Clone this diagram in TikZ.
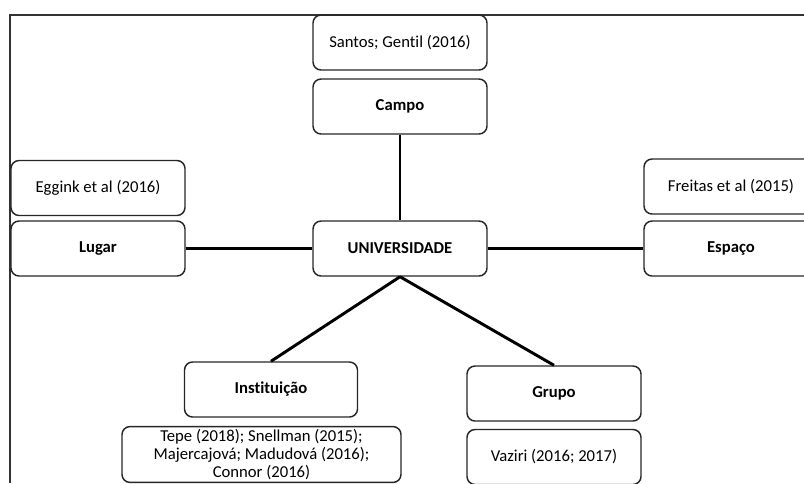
\documentclass[tikz,border=0pt]{standalone}
\usepackage{fontspec}
\setmainfont{Carlito}[Ligatures=NoCommon]
\begin{document}
\begin{tikzpicture}[x=0.75pt,y=-0.75pt,
  box/.style={draw=black!85,line width=1.1pt,rounded corners=6pt,minimum width=174*0.75pt,minimum height=55*0.75pt,inner sep=2pt,align=center,font=\fontsize{12.5}{13.5}\selectfont},
  lbl/.style={box,font=\fontsize{12.5}{13.5}\selectfont\bfseries},
  conn/.style={line width=2.2pt,black}]
\useasboundingbox (0,0) rectangle (804,483);
\draw[line width=0.8pt,black!80] (10,483) -- (10,15) -- (810,15);
\node[box] (santos) at (400,42.5) {Santos; Gentil (2016)};
\node[lbl] (campo) at (400,106.5) {Campo};
\node[lbl] (univ) at (400,248.5) {UNIVERSIDADE};
\node[box] (eggink) at (98,188) {Eggink et al (2016)};
\node[lbl] (lugar) at (98,248.5) {Lugar};
\node[box] (freitas) at (731,186.5) {Freitas et al (2015)};
\node[lbl] (espaco) at (731,248.5) {Espaço};
\node[lbl,minimum width=173*0.75pt] (inst) at (271,389.5) {Instituição};
\node[lbl] (grupo) at (554,393.5) {Grupo};
\node[box,minimum width=279*0.75pt] (tepe) at (261.5,454.5) {Tepe (2018); Snellman (2015);\\Majercajová; Madudová (2016);\\Connor (2016)};
\node[box] (vaziri) at (554,457) {Vaziri (2016; 2017)};
\draw[conn] (campo) -- (univ);
\draw[conn] (lugar) -- (univ);
\draw[conn] (univ) -- (espaco);
\draw[conn] (univ.south) -- (inst.north);
\draw[conn] (univ.south) -- (grupo.north);
\end{tikzpicture}
\end{document}
